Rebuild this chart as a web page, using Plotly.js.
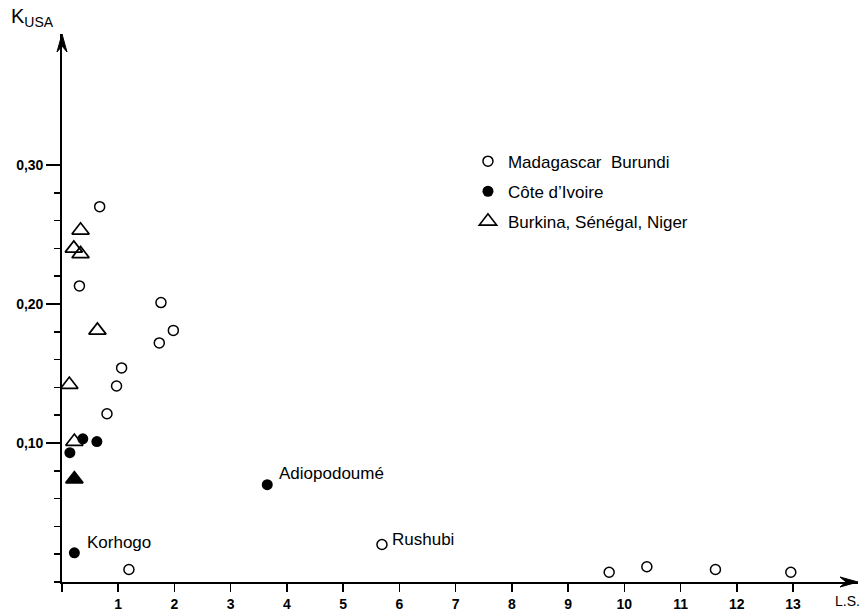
<!DOCTYPE html>
<html><head><meta charset="utf-8">
<script src="https://cdn.plot.ly/plotly-3.0.1.min.js"></script>
<style>html,body{margin:0;padding:0;background:#fff}</style>
</head><body><div id="chart" style="width:864px;height:611px"></div>
<script>
// ---- data ----
const madX = [0.67, 0.31, 1.76, 1.98, 1.73, 1.06, 0.97, 0.80, 1.19, 5.69, 9.73, 10.40, 11.62, 12.96];
const madY = [0.270, 0.213, 0.201, 0.181, 0.172, 0.154, 0.141, 0.121, 0.009, 0.027, 0.007, 0.011, 0.009, 0.007];
const madLabels = ['', '', '', '', '', '', '', '', '', 'Rushubi', '', '', '', ''];

const civX = [0.37, 0.62, 0.14, 0.22, 3.65];
const civY = [0.103, 0.101, 0.093, 0.021, 0.070];
const civLabels = ['', '', '', 'Korhogo', 'Adiopodoumé'];

const bsnX = [0.33, 0.21, 0.33, 0.63, 0.13, 0.22];
const bsnY = [0.253, 0.240, 0.236, 0.181, 0.142, 0.101];

const bsnFilledX = [0.22];
const bsnFilledY = [0.074];

const seriesNames = ['Madagascar\u00a0 Burundi', 'Côte d\u2019Ivoire', 'Burkina, Sénégal, Niger'];
const xTickVals = [1, 2, 3, 4, 5, 6, 7, 8, 9, 10, 11, 12, 13];
const xTickText = ['1', '2', '3', '4', '5', '6', '7', '8', '9', '10', '11', '12', '13'];
const xMinorVals = [0];
const yTickVals = [0.10, 0.20, 0.30];
const yTickText = ['0,10', '0,20', '0,30'];
const yMinorVals = [0, 0.02, 0.04, 0.06, 0.08, 0.12, 0.14, 0.16, 0.18, 0.22, 0.24, 0.26, 0.28];
const xAxisTitle = 'L.S.';
const yAxisTitle = 'K<sub>USA</sub>';

// ---- styling ----
const FONT = 'Liberation Sans, Arial, Helvetica, sans-serif';
const X_MAX = 14.155, Y_MAX = 0.3942;
const labelOffsets = {'Korhogo': [11, 10], 'Adiopodoumé': [10, 11], 'Rushubi': [8, 5]};

const open = 'rgba(0,0,0,0)';
const traces = [
  {x: madX, y: madY, name: seriesNames[0], type: 'scatter', mode: 'markers', legendgroup: 'a',
   marker: {symbol: 'circle', size: 10, color: open, line: {color: 'black', width: 1.5}}},
  {x: civX, y: civY, name: seriesNames[1], type: 'scatter', mode: 'markers', legendgroup: 'b',
   marker: {symbol: 'circle', size: 11, color: 'black', line: {color: 'black', width: 0}}},
  {x: bsnX, y: bsnY, name: seriesNames[2], type: 'scatter', mode: 'markers', legendgroup: 'c',
   marker: {symbol: 'triangle-up', size: 15, color: open, line: {color: 'black', width: 1.7}}},
  {x: bsnFilledX, y: bsnFilledY, name: seriesNames[2], type: 'scatter', mode: 'markers', legendgroup: 'c', showlegend: false,
   marker: {symbol: 'triangle-up', size: 15, color: 'black', line: {color: 'black', width: 1.7}}}
];

const annotations = [];
function addLabels(xs, ys, labels) {
  labels.forEach((t, i) => {
    if (!t) return;
    const off = labelOffsets[t] || [10, 8];
    annotations.push({x: xs[i], y: ys[i], xref: 'x', yref: 'y', text: t, showarrow: false,
      xanchor: 'left', yanchor: 'middle', xshift: off[0], yshift: off[1],
      font: {family: FONT, size: 17, color: 'black'}});
  });
}
addLabels(madX, madY, madLabels);
addLabels(civX, civY, civLabels);

annotations.push({x: -0.066, y: 1.03, xref: 'paper', yref: 'paper', text: yAxisTitle, showarrow: false,
  xanchor: 'left', yanchor: 'middle', font: {family: FONT, size: 20, color: 'black'}});
annotations.push({x: 0.968, y: -0.0345, xref: 'paper', yref: 'paper', text: xAxisTitle, showarrow: false,
  xanchor: 'left', yanchor: 'middle', font: {family: FONT, size: 14, color: 'black'}});

const shapes = [
  {type: 'path', xref: 'paper', yref: 'paper', xsizemode: 'pixel', ysizemode: 'pixel', xanchor: 1, yanchor: 0,
   path: 'M0,0 L-18,5 L-12,0 L-18,-5 Z', fillcolor: 'black', line: {color: 'black', width: 1}},
  {type: 'path', xref: 'paper', yref: 'paper', xsizemode: 'pixel', ysizemode: 'pixel', xanchor: 0, yanchor: 1,
   path: 'M0,0 L-5,-18 L0,-12 L5,-18 Z', fillcolor: 'black', line: {color: 'black', width: 1}}
];

const tickFont = {family: FONT, size: 14, color: 'black', weight: 'bold'};
const layout = {
  width: 864, height: 611,
  margin: {l: 62, r: 6, t: 34, b: 29, pad: 0},
  paper_bgcolor: 'white', plot_bgcolor: 'white',
  font: {family: FONT, color: 'black'},
  separators: ', ',
  showlegend: true,
  legend: {x: 0.51, y: 0.80, xanchor: 'left', yanchor: 'top', bgcolor: 'rgba(0,0,0,0)',
    font: {family: FONT, size: 17, color: 'black'}, tracegroupgap: 5, itemclick: false},
  xaxis: {range: [0, X_MAX], showgrid: false, zeroline: false, showline: true, linecolor: 'black', linewidth: 1.8,
    tickmode: 'array', tickvals: xTickVals, ticktext: xTickText, ticks: 'outside', ticklen: 8, tickwidth: 1.5,
    tickcolor: 'black', tickfont: tickFont,
    minor: {tickmode: 'array', tickvals: xMinorVals, ticks: 'outside', ticklen: 8, tickwidth: 1.5, tickcolor: 'black', showgrid: false}},
  yaxis: {range: [0, Y_MAX], showgrid: false, zeroline: false, showline: true, linecolor: 'black', linewidth: 1.8,
    tickmode: 'array', tickvals: yTickVals, ticktext: yTickText, ticks: 'outside', ticklen: 14, tickwidth: 1.5,
    tickcolor: 'black', tickfont: tickFont,
    minor: {tickmode: 'array', tickvals: yMinorVals, ticks: 'outside', ticklen: 6, tickwidth: 1.5, tickcolor: 'black', showgrid: false}},
  annotations: annotations,
  shapes: shapes
};

Plotly.newPlot('chart', traces, layout, {displayModeBar: false, staticPlot: true});
</script>
</body></html>
